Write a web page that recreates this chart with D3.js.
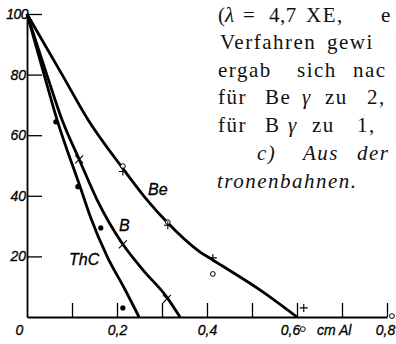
<!DOCTYPE html>
<html><head><meta charset="utf-8">
<script src="https://cdn.jsdelivr.net/npm/d3@7"></script>
<style>body{margin:0;background:#fff}svg{display:block}</style>
</head><body>
<script>
// ---- data ----
const xTicks = [0, 0.1, 0.2, 0.3, 0.4, 0.5, 0.6, 0.7, 0.8];
const xTickLabels = ["0", "", "0,2", "", "0,4", "", "0,6", "", "0,8"];
const yTicks = [20, 40, 60, 80, 100];
const yTickLabels = ["20", "40", "60", "80", "100"];
const xUnit = "cm Al";

const beCurveX = [0, 0.078, 0.136, 0.213, 0.262, 0.313, 0.384, 0.413, 0.524, 0.6];
const beCurveY = [100, 80, 65, 49, 39.5, 31, 21.5, 18.8, 8.3, 0];
const bCurveX = [0, 0.044, 0.078, 0.116, 0.156, 0.213, 0.258, 0.311, 0.34];
const bCurveY = [100, 80, 65, 52, 38.6, 24, 15.5, 6.5, 0];
const thcCurveX = [0, 0.038, 0.067, 0.118, 0.141, 0.178, 0.218, 0.249];
const thcCurveY = [100, 80, 65, 43, 33, 20, 9, 0];

const beCircleX = [0.213, 0.313, 0.413, 0.613, 0.811];
const beCircleY = [49.8, 31.3, 14.2, -4, 0.3];
const bePlusX = [0.213, 0.313, 0.413, 0.615];
const bePlusY = [48, 30.3, 19.5, 3];
const bCrossX = [0.116, 0.213, 0.311];
const bCrossY = [52, 24, 6];
const thcDotX = [0.064, 0.113, 0.164, 0.213];
const thcDotY = [64.4, 43, 29.4, 3];

const curveNames = ["Be", "B", "ThC"];

// ---- chart ----
const W = 396, H = 344;
const svg = d3.select("body").append("svg").attr("width", W).attr("height", H);
const x = d3.scaleLinear().domain([0, 0.8]).range([27, 387]);
const y = d3.scaleLinear().domain([0, 100]).range([317, 14]);
const axisFont = "'Liberation Sans', Arial, sans-serif";

const gx = svg.append("g").attr("transform", `translate(0,${y(0)})`)
  .call(d3.axisBottom(x).tickValues(xTicks).tickSizeInner(-14).tickSizeOuter(0)
    .tickFormat((d, i) => xTickLabels[i]));
gx.select(".domain").attr("stroke", "#000").attr("stroke-width", 1.8);
gx.selectAll(".tick line").attr("stroke", "#000").attr("stroke-width", 1.3)
  .filter(d => d === 0).remove();
gx.selectAll(".tick text").attr("y", 8).attr("fill", "#000")
  .attr("font-family", axisFont).attr("font-style", "italic").attr("font-size", 14)
  .attr("stroke", "#000").attr("stroke-width", 0.3)
  .attr("dx", d => d === 0 ? -8 : (d === 0.6 ? -7 : (d === 0.8 ? -2 : 0)));
svg.append("text").attr("x", 317).attr("y", 335).attr("font-family", axisFont)
  .attr("font-style", "italic").attr("font-size", 14)
  .attr("stroke", "#000").attr("stroke-width", 0.3).text(xUnit);

const gy = svg.append("g").attr("transform", `translate(${x(0)},0)`)
  .call(d3.axisLeft(y).tickValues(yTicks).tickSizeInner(-15).tickSizeOuter(0)
    .tickFormat((d, i) => yTickLabels[i]));
gy.select(".domain").attr("stroke", "#000").attr("stroke-width", 1.8);
gy.selectAll(".tick line").attr("stroke", "#000").attr("stroke-width", 1.3);
gy.selectAll(".tick text").attr("x", -1).attr("fill", "#000")
  .attr("font-family", axisFont).attr("font-style", "italic").attr("font-size", 14)
  .attr("stroke", "#000").attr("stroke-width", 0.3);
gy.selectAll(".tick text").filter(d => d === 100).attr("x", 1).attr("letter-spacing", -0.5);

const line = d3.line().x(d => x(d[0])).y(d => y(d[1])).curve(d3.curveMonotoneX);
[[beCurveX, beCurveY], [bCurveX, bCurveY], [thcCurveX, thcCurveY]].forEach(([xs, ys]) => {
  svg.append("path").datum(d3.zip(xs, ys)).attr("d", line)
    .attr("fill", "none").attr("stroke", "#000").attr("stroke-width", 2.8);
});

// markers
svg.selectAll(".circ").data(d3.zip(beCircleX, beCircleY)).join("circle")
  .attr("cx", d => x(d[0])).attr("cy", d => y(d[1])).attr("r", 2.4)
  .attr("fill", "#fff").attr("stroke", "#000").attr("stroke-width", 1);
svg.selectAll(".plus").data(d3.zip(bePlusX, bePlusY)).join("path")
  .attr("d", d => `M${x(d[0]) - 4},${y(d[1])}h8M${x(d[0])},${y(d[1]) - 4}v8`)
  .attr("stroke", "#000").attr("stroke-width", 1.1);
svg.selectAll(".cross").data(d3.zip(bCrossX, bCrossY)).join("path")
  .attr("d", d => `M${x(d[0]) - 4},${y(d[1]) - 4}l8,8M${x(d[0]) - 4},${y(d[1]) + 4}l8,-8`)
  .attr("stroke", "#000").attr("stroke-width", 1.1);
svg.selectAll(".dot").data(d3.zip(thcDotX, thcDotY)).join("circle")
  .attr("cx", d => x(d[0])).attr("cy", d => y(d[1])).attr("r", 2.6).attr("fill", "#000");

// curve labels
const labelPos = [[148, 195], [119, 231], [69, 265]];
curveNames.forEach((n, i) => {
  svg.append("text").attr("x", labelPos[i][0]).attr("y", labelPos[i][1])
    .attr("font-family", axisFont).attr("font-style", "italic").attr("font-size", 16)
    .attr("stroke", "#000").attr("stroke-width", 0.3).text(n);
});

// running text (scanned page text beside the figure)
const tokens = [
  ["(", 218, 22, 0], ["λ", 225, 22, 1], ["=", 243, 22, 0], ["4,7", 269, 22, 0], ["XE,", 306, 22, 0], ["e", 381, 22, 0],
  ["Verfahren", 220, 49, 0], ["gewi", 327, 49, 0],
  ["ergab", 218, 77, 0], ["sich", 297, 77, 0], ["nac", 353, 77, 0],
  ["für", 218, 104, 0], ["Be", 265, 104, 0], ["γ", 302, 104, 1], ["zu", 325, 104, 0], ["2,", 367, 104, 0],
  ["für", 218, 132, 0], ["B", 265, 132, 0], ["γ", 288, 132, 1], ["zu", 312, 132, 0], ["1,", 357, 132, 0],
  ["c)", 257, 160, 1], ["Aus", 303, 160, 1], ["der", 357, 160, 1],
  ["tronenbahnen.", 217, 188, 1]
];
tokens.forEach(t => {
  svg.append("text").attr("x", t[1]).attr("y", t[2])
    .attr("font-family", "'Liberation Serif', 'Times New Roman', serif").attr("font-size", 21)
    .attr("letter-spacing", t[0] === "4,7" ? 0.5 : 1.5)
    .attr("font-style", t[3] ? "italic" : "normal").attr("fill", "#111").text(t[0]);
});
</script>
</body></html>
